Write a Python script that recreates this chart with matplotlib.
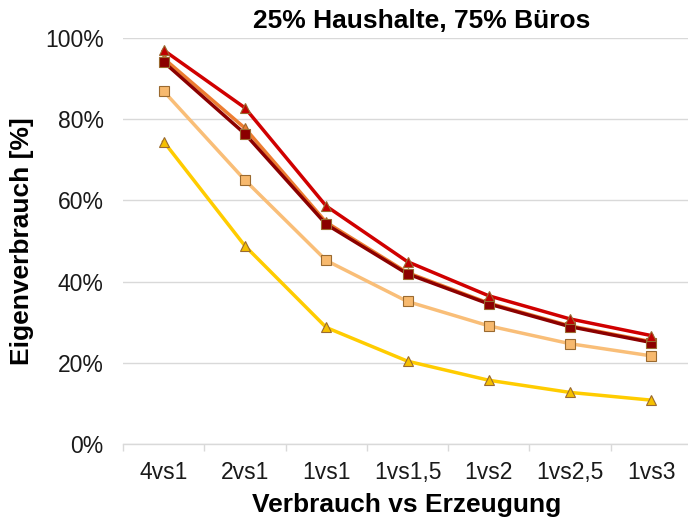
import matplotlib.pyplot as plt
from matplotlib.ticker import FuncFormatter

plt.rcParams["font.family"] = ["Liberation Sans", "DejaVu Sans"]

categories = ["4vs1", "2vs1", "1vs1", "1vs1,5", "1vs2", "1vs2,5", "1vs3"]

red_tri = [97.0, 82.8, 58.6, 44.9, 36.5, 30.8, 26.7]
orange_tri = [95.0, 77.8, 54.6, 42.2, 34.7, 29.1, 25.2]
darkred_sq = [94.1, 76.4, 54.1, 41.9, 34.5, 28.9, 25.0]
lightorange_sq = [86.9, 65.0, 45.2, 35.1, 29.1, 24.7, 21.7]
yellow_tri = [74.5, 48.8, 28.7, 20.4, 15.7, 12.7, 10.8]

# (values, line colour, marker face, marker)
series = [
    (yellow_tri, "#FFCC00", "#F5C000", "^"),
    (lightorange_sq, "#F9BE78", "#F7B96E", "s"),
    (orange_tri, "#ED7D31", "#ED7D31", "^"),
    (darkred_sq, "#8B0000", "#8B0000", "s"),
    (red_tri, "#D00000", "#C00000", "^"),
]

fig = plt.figure(figsize=(6.88, 5.23), dpi=100)
ax = fig.add_axes([123 / 688, 1 - 444 / 523, 569 / 688, 406 / 523])

x = range(len(categories))
for vals, color, face, marker in series:
    ax.plot(x, vals, color=color, linewidth=2.5, marker=marker, markersize=7.5,
            markerfacecolor=face, markeredgecolor="#9A6A30", markeredgewidth=0.8,
            zorder=3)

ax.set_xlim(-0.5, len(categories) - 0.5)
ax.set_ylim(0, 100)
ax.set_yticks([0, 20, 40, 60, 80, 100])
ax.yaxis.set_major_formatter(FuncFormatter(lambda v, p: f"{v:.0f}%"))
ax.set_xticks(list(x))
ax.set_xticklabels(categories)
ax.set_xticks([i - 0.5 for i in range(len(categories) + 1)], minor=True)

ax.grid(axis="y", color="#D9D9D9", linewidth=1.0)
ax.set_axisbelow(True)
for s in ["top", "right", "left"]:
    ax.spines[s].set_visible(False)
ax.spines["bottom"].set_color("#D9D9D9")
ax.spines["bottom"].set_linewidth(1.0)

ax.tick_params(axis="y", length=0, pad=14, labelsize=16.5, labelcolor="#1a1a1a")
ax.tick_params(axis="x", which="major", length=0, pad=12, labelsize=16.5, labelcolor="#1a1a1a")
ax.tick_params(axis="x", which="minor", length=5, color="#D9D9D9", width=1.0)

fig.text(407 / 688, 1 - 505 / 523, "Verbrauch vs Erzeugung", fontsize=19,
         fontweight="bold", ha="center", va="center")
fig.text(22 / 688, 1 - 241 / 523, "Eigenverbrauch [%]", rotation=90, fontsize=19,
         fontweight="bold", ha="center", va="center")
fig.text(422 / 688, 1 - 21 / 523, "25% Haushalte, 75% Büros", fontsize=19,
         fontweight="bold", ha="center", va="center")

fig.savefig("out.png", dpi=100)
